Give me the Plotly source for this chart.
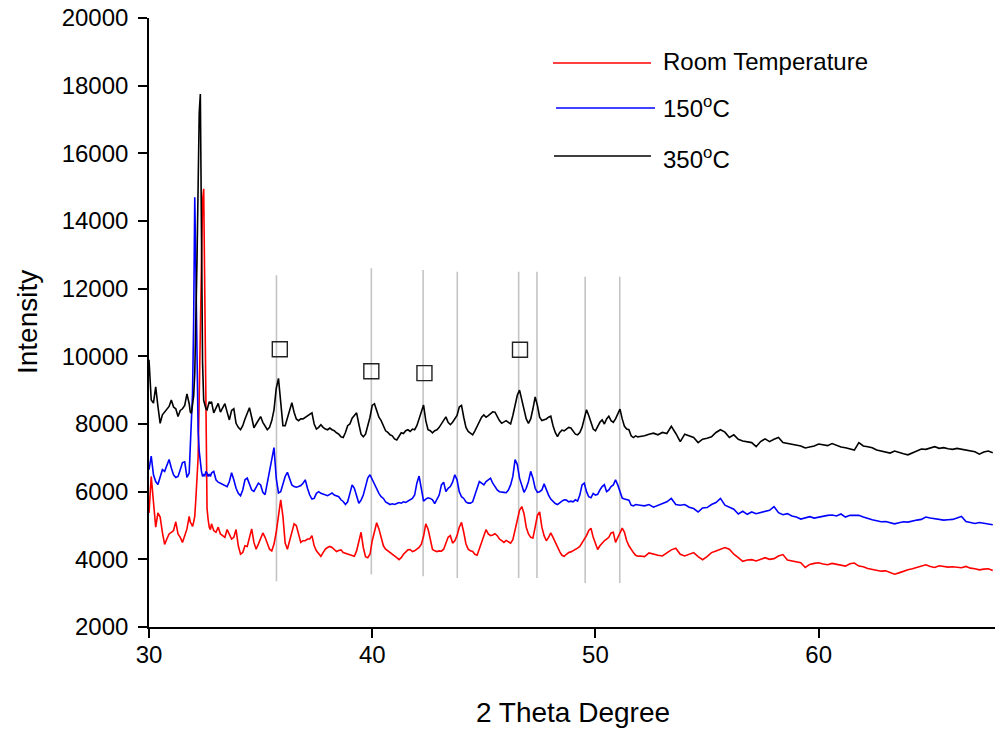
import numpy as np
import plotly.graph_objects as go

# 2-theta grid: 0.1 deg steps, a finer 0.05 deg window around the main reflection,
# and 0.2 deg steps across the flat tail of the scan
TWO_THETA = np.round(np.concatenate([
    np.linspace(30.0, 31.7, 18),
    np.linspace(31.8, 32.75, 20),
    np.linspace(32.8, 51.9, 192),
    np.linspace(52.0, 67.8, 80),
]), 2)

# Intensities (counts) at room temperature
INT_RT = [
    5370, 6450, 5700, 4950, 5370, 5250, 4800, 4440, 4600, 4750,   # 30.0-30.9
    4800, 4850, 5110, 4750, 4650, 4500, 4700, 4900,               # 31.0-31.7
    5270, 5100, 5050, 4970, 5100, 5270, 5800, 6300, 7000, 8800,   # 31.80-32.25
    10800, 12800, 14600, 14950, 11000, 7000, 5500, 5170, 4950, 4880,  # 32.30-32.75
    5050, 4850,                                                   # 32.8-32.9
    4800, 4950, 4750, 4700, 4650, 4880, 4750, 4600, 4650, 4880,   # 33
    4400, 4150, 4200, 4400, 4380, 4650, 4900, 4500, 4300, 4450,   # 34
    4600, 4780, 4650, 4450, 4300, 4250, 4450, 4800, 5300, 5760,   # 35
    5270, 4480, 4300, 4550, 4750, 5050, 5000, 4700, 4500, 4550,   # 36
    4550, 4600, 4600, 4700, 4400, 4250, 4150, 4090, 4200, 4300,   # 37
    4350, 4380, 4350, 4300, 4230, 4260, 4280, 4200, 4180, 4150,   # 38
    4120, 4100, 4090, 4250, 4550, 4800, 4350, 4080, 4050, 4150,   # 39
    4550, 4850, 5080, 4900, 4650, 4400, 4300, 4250, 4220, 4150,   # 40
    4100, 4050, 3990, 4050, 4150, 4230, 4280, 4290, 4230, 4250,   # 41
    4300, 4350, 4450, 4680, 5050, 4900, 4600, 4290, 4250, 4230,   # 42
    4250, 4240, 4300, 4480, 4650, 4700, 4480, 4550, 4700, 4950,   # 43
    5090, 4800, 4450, 4300, 4250, 4230, 4150, 4120, 4300, 4500,   # 44
    4700, 4880, 4750, 4700, 4720, 4760, 4700, 4600, 4550, 4500,   # 45
    4560, 4520, 4480, 4580, 4900, 5200, 5450, 5560, 5350, 4950,   # 46
    4750, 4650, 4630, 4950, 5300, 5400, 4950, 4700, 4550, 4650,   # 47
    4780, 4650, 4500, 4350, 4230, 4120, 4090, 4150, 4200, 4220,   # 48
    4250, 4300, 4330, 4380, 4480, 4600, 4700, 4850, 4920, 4650,   # 49
    4450, 4290, 4400, 4480, 4550, 4600, 4650, 4780, 4800, 4500,   # 50
    4650, 4780, 4920, 4800, 4550, 4400, 4290, 4200, 4120, 4090,   # 51
    4100, 4080, 4190, 4150, 4120,                                 # 52.0-52.8
    4100, 4200, 4280, 4330, 4150,                                 # 53
    4100, 4150, 4200, 4080, 3990,                                 # 54
    4080, 4200, 4250, 4300, 4350,                                 # 55
    4300, 4150, 4050, 3940, 3980,                                 # 56
    3990, 3950, 3990, 4050, 4000,                                 # 57
    4020, 4100, 4140, 3980, 3950,                                 # 58
    3920, 3900, 3760, 3850, 3880,                                 # 59
    3900, 3860, 3840, 3880, 3850,                                 # 60
    3830, 3800, 3870, 3890, 3800,                                 # 61
    3780, 3730, 3700, 3680, 3650,                                 # 62
    3660, 3600, 3560, 3600, 3650,                                 # 63
    3690, 3720, 3760, 3800, 3840,                                 # 64
    3790, 3760, 3810, 3790, 3770,                                 # 65
    3780, 3760, 3750, 3790, 3740,                                 # 66
    3720, 3690, 3710, 3720, 3670,                                 # 67
]

# Intensities after annealing at 150 C
INT_150 = [
    6650, 7050, 6500, 6300, 6210, 6450, 6650, 6600, 6800, 6950,   # 30.0-30.9
    6700, 6500, 6420, 6450, 6650, 6860, 6880, 6420,               # 31.0-31.7
    6550, 7200, 7900, 8900, 11000, 14700, 12500, 9800, 7800, 7200,  # 31.80-32.25
    6800, 6600, 6450, 6500, 6470, 6600, 6550, 6450, 6520, 6450,   # 32.30-32.75
    6550, 6600,                                                   # 32.8-32.9
    6350, 6280, 6250, 6220, 6180, 6150, 6300, 6560, 6350, 6100,   # 33
    5950, 5880, 6050, 6350, 6400, 6200, 6050, 6010, 6150, 6250,   # 34
    6200, 5980, 5910, 6250, 6650, 7000, 7300, 6400, 5960, 6000,   # 35
    6200, 6450, 6570, 6350, 6200, 6150, 6130, 6150, 6180, 6250,   # 36
    6350, 6100, 5900, 5780, 5800, 5950, 6000, 5950, 5920, 5900,   # 37
    5880, 5920, 5960, 5900, 5880, 5850, 5760, 5710, 5620, 5700,   # 38
    5950, 6200, 6100, 5850, 5660, 5750, 5900, 6150, 6400, 6500,   # 39
    6350, 6200, 6050, 5950, 5850, 5800, 5700, 5660, 5620, 5640,   # 40
    5620, 5650, 5680, 5660, 5700, 5680, 5720, 5740, 5800, 5900,   # 41
    6250, 6460, 6050, 5720, 5780, 5820, 5800, 5760, 5650, 5760,   # 42
    5900, 6200, 6280, 6000, 6100, 6150, 6280, 6500, 6350, 6000,   # 43
    5850, 5800, 5700, 5660, 5660, 5700, 5900, 6100, 6300, 6250,   # 44
    6200, 6300, 6350, 6400, 6250, 6150, 6050, 6000, 5980, 5980,   # 45
    5970, 6050, 6200, 6450, 6950, 6800, 6400, 6150, 5980, 6100,   # 46
    6300, 6600, 6400, 6100, 5980, 6000, 6050, 6230, 6050, 5900,   # 47
    5780, 5710, 5650, 5620, 5680, 5720, 5760, 5750, 5700, 5720,   # 48
    5700, 5760, 5720, 5900, 6200, 6250, 6000, 5850, 5820, 5950,   # 49
    5900, 5920, 6050, 6150, 6210, 6000, 6050, 6150, 6200, 6350,   # 50
    6200, 6000, 5810, 5780, 5760, 5750, 5600, 5580, 5620, 5600,   # 51
    5600, 5580, 5620, 5540, 5600,                                 # 52.0-52.8
    5650, 5700, 5800, 5620, 5600,                                 # 53
    5620, 5540, 5500, 5400, 5520,                                 # 54
    5530, 5620, 5680, 5800, 5600,                                 # 55
    5530, 5480, 5340, 5420, 5330,                                 # 56
    5400, 5350, 5380, 5400, 5450,                                 # 57
    5560, 5380, 5320, 5350, 5280,                                 # 58
    5250, 5190, 5230, 5260, 5220,                                 # 59
    5250, 5260, 5300, 5310, 5280,                                 # 60
    5340, 5250, 5300, 5290, 5300,                                 # 61
    5250, 5200, 5170, 5140, 5110,                                 # 62
    5120, 5080, 5050, 5080, 5110,                                 # 63
    5100, 5140, 5160, 5180, 5250,                                 # 64
    5220, 5200, 5180, 5160, 5170,                                 # 65
    5180, 5220, 5270, 5120, 5080,                                 # 66
    5060, 5090, 5060, 5050, 5020,                                 # 67
]

# Intensities after annealing at 350 C
INT_350 = [
    9900, 8710, 8620, 9100, 8520, 8020, 8270, 8350, 8420, 8520,   # 30.0-30.9
    8710, 8500, 8450, 8220, 8400, 8450, 8550, 8890,               # 31.0-31.7
    8600, 8350, 8320, 8600, 8820, 9500, 10800, 12800, 15000, 17200,  # 31.80-32.25
    17750, 13500, 9800, 8700, 8520, 8450, 8420, 8550, 8660, 8600,  # 32.30-32.75
    8660, 8330,                                                   # 32.8-32.9
    8450, 8610, 8350, 8500, 8600, 8350, 8120, 8400, 8450, 8020,   # 33
    7900, 7830, 7950, 8150, 8350, 8480, 8200, 7890, 8000, 8100,   # 34
    8220, 8050, 7950, 7830, 7900, 8100, 8420, 9050, 9350, 8650,   # 35
    7950, 7950, 8200, 8400, 8630, 8350, 8150, 8100, 8150, 8150,   # 36
    8200, 8250, 8300, 8330, 8000, 7850, 7900, 7980, 7900, 7850,   # 37
    7830, 7880, 7830, 7800, 7740, 7700, 7620, 7600, 7750, 7950,   # 38
    8000, 8170, 8250, 8330, 8000, 7700, 7620, 7700, 7950, 8200,   # 39
    8550, 8600, 8400, 8200, 8100, 7950, 7800, 7750, 7680, 7650,   # 40
    7560, 7530, 7650, 7740, 7720, 7800, 7830, 7780, 7850, 7830,   # 41
    7950, 8150, 8420, 8560, 8100, 7830, 7800, 7740, 7800, 7830,   # 42
    7900, 8000, 8100, 8210, 8050, 7980, 8050, 8150, 8250, 8500,   # 43
    8550, 8200, 7900, 7780, 7740, 7680, 7800, 7950, 8100, 8200,   # 44
    8270, 8200, 8250, 8300, 8360, 8350, 8200, 8100, 8020, 8050,   # 45
    8100, 8050, 8000, 8250, 8550, 8850, 9000, 8700, 8350, 8150,   # 46
    8020, 8150, 8450, 8800, 8550, 8200, 8100, 8120, 8150, 8200,   # 47
    8230, 7950, 7750, 7630, 7750, 7820, 7800, 7850, 7900, 7880,   # 48
    7800, 7700, 7680, 7750, 7900, 8200, 8420, 8250, 8050, 7850,   # 49
    7800, 7950, 8050, 8120, 8000, 8150, 8230, 8100, 8050, 8150,   # 50
    8300, 8440, 8150, 7930, 7850, 7830, 7650, 7600, 7650, 7620,   # 51
    7630, 7650, 7700, 7730, 7680,                                 # 52.0-52.8
    7750, 7720, 7930, 7720, 7480,                                 # 53
    7700, 7650, 7600, 7450, 7550,                                 # 54
    7580, 7620, 7750, 7830, 7760,                                 # 55
    7600, 7680, 7550, 7500, 7480,                                 # 56
    7450, 7330, 7480, 7560, 7480,                                 # 57
    7550, 7600, 7450, 7420, 7400,                                 # 58
    7380, 7350, 7290, 7320, 7350,                                 # 59
    7410, 7380, 7360, 7420, 7360,                                 # 60
    7320, 7300, 7260, 7230, 7450,                                 # 61
    7350, 7330, 7300, 7230, 7200,                                 # 62
    7150, 7140, 7200, 7150, 7120,                                 # 63
    7090, 7150, 7200, 7260, 7250,                                 # 64
    7300, 7330, 7280, 7300, 7270,                                 # 65
    7250, 7280, 7260, 7230, 7200,                                 # 66
    7180, 7110, 7170, 7200, 7150,                                 # 67
]

SERIES_NAMES = ["Room Temperature", "150<sup>o</sup>C", "350<sup>o</sup>C"]
SERIES_COLORS = ["#ff0000", "#0000ff", "#000000"]

# Reference reflection positions (vertical guides) and their extent
GUIDE_POS = [35.71, 39.96, 42.28, 43.81, 46.56, 47.38, 49.54, 51.09]
GUIDE_TOP = [12400, 12600, 12550, 12500, 12500, 12500, 12350, 12350]
GUIDE_BOTTOM = [3350, 3550, 3500, 3450, 3450, 3450, 3300, 3300]

# Open-square phase markers
MARKER_POS = [35.86, 39.96, 42.34, 46.62]
MARKER_INT = [10210, 9560, 9505, 10195]

for arr in (INT_RT, INT_150, INT_350):
    if len(arr) != len(TWO_THETA):
        raise ValueError(f"series length {len(arr)} != grid length {len(TWO_THETA)}")

FONT = "Liberation Sans, Arial, sans-serif"

fig = go.Figure()

gx, gy = [], []
for p, lo, hi in zip(GUIDE_POS, GUIDE_BOTTOM, GUIDE_TOP):
    gx += [p, p, None]
    gy += [lo, hi, None]
fig.add_trace(go.Scatter(x=gx, y=gy, mode="lines",
                         line=dict(color="#c4c4c4", width=1.6),
                         hoverinfo="skip", showlegend=False))

for name, ys, col in zip(SERIES_NAMES, [INT_RT, INT_150, INT_350], SERIES_COLORS):
    fig.add_trace(go.Scatter(x=TWO_THETA, y=ys, mode="lines", name=name,
                             line=dict(color=col, width=1.6), showlegend=False))

fig.add_trace(go.Scatter(x=MARKER_POS, y=MARKER_INT, mode="markers",
                         marker=dict(symbol="square-open", size=15,
                                     color="#222222", line=dict(width=1.4)),
                         showlegend=False, hoverinfo="skip"))

# Legend drawn as line samples with labels in the upper right
legend_rows = [
    (0.4775, 0.5934, 0.9261, 0.9278),
    (0.4811, 0.5981, 0.8522, 0.8539),
    (0.4787, 0.5934, 0.7734, 0.7701),
]
for (x0, x1, yl, yt), name, col in zip(legend_rows, SERIES_NAMES, SERIES_COLORS):
    fig.add_shape(type="line", xref="paper", yref="paper",
                  x0=x0, x1=x1, y0=yl, y1=yl, line=dict(color=col, width=1.4))
    fig.add_annotation(xref="paper", yref="paper", x=0.6052, y=yt, text=name,
                       showarrow=False, xanchor="left", yanchor="middle",
                       font=dict(family=FONT, size=24, color="#000000"))

fig.add_annotation(xref="paper", yref="paper", x=-0.1442, y=0.5008,
                   text="Intensity", textangle=-90, showarrow=False,
                   xanchor="center", yanchor="middle",
                   font=dict(family=FONT, size=28, color="#000000"))
fig.add_annotation(xref="paper", yref="paper", x=0.5012, y=-0.1412,
                   text="2 Theta Degree", showarrow=False,
                   xanchor="center", yanchor="middle",
                   font=dict(family=FONT, size=28, color="#000000"))

axis_common = dict(showgrid=False, zeroline=False, showline=True,
                   linecolor="#000000", linewidth=1.6, ticks="outside",
                   ticklen=9, tickwidth=1.6, tickcolor="#000000",
                   tickfont=dict(family=FONT, size=24, color="#000000"))

fig.update_xaxes(range=[30, 67.9], tickvals=[30, 40, 50, 60],
                 ticklabelstandoff=-4, **axis_common)
fig.update_yaxes(range=[2000, 20000], tick0=2000, dtick=2000, tickformat="d",
                 ticklabelstandoff=5, **axis_common)

fig.update_layout(
    template="none",
    width=995, height=734,
    margin=dict(l=149, r=0, t=18, b=107, pad=0),
    paper_bgcolor="#ffffff", plot_bgcolor="#ffffff",
    font=dict(family=FONT, color="#000000"),
    showlegend=False,
)

fig.write_html("out.html")
